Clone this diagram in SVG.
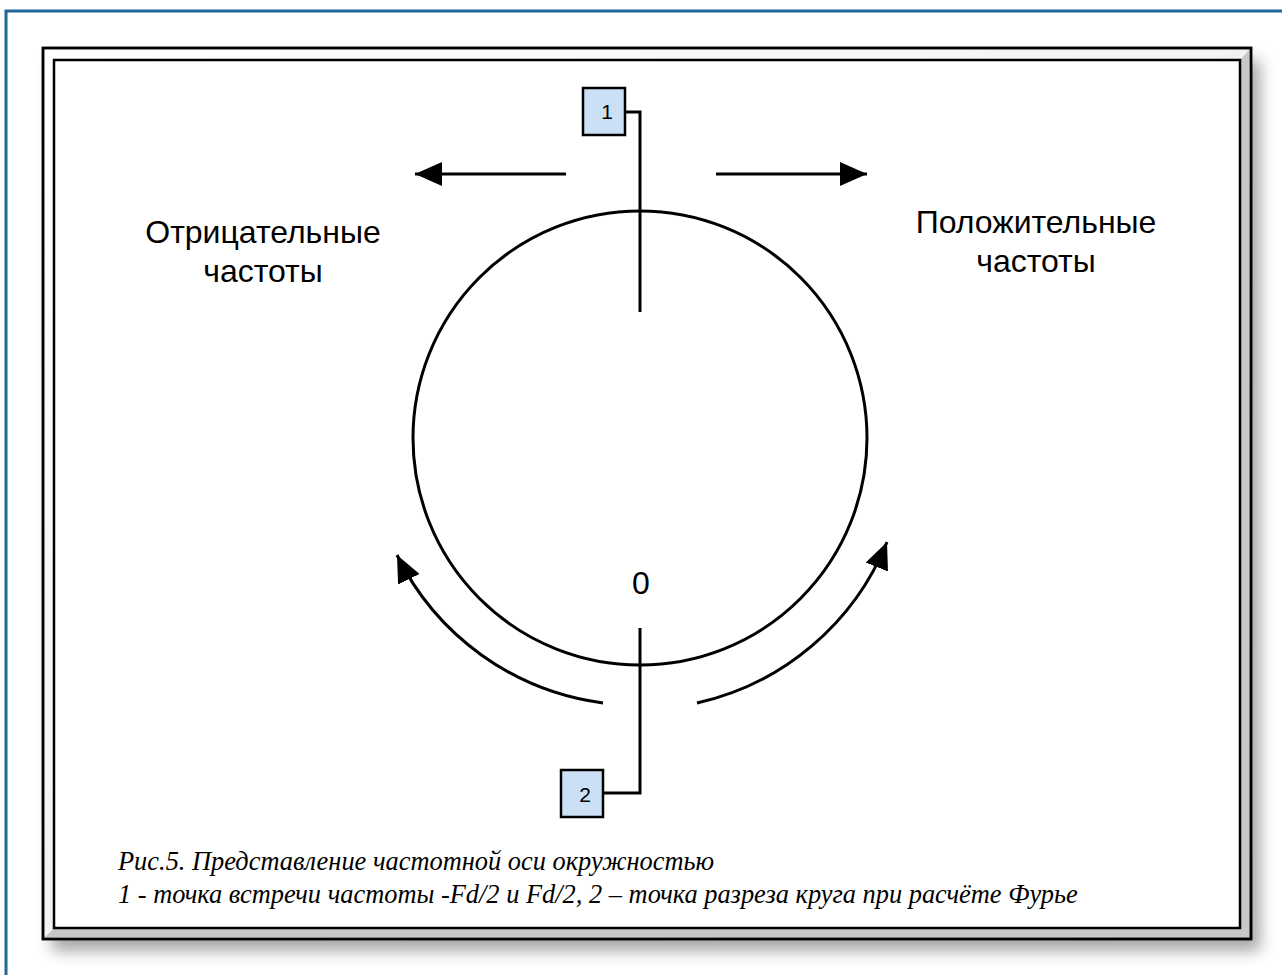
<svg xmlns="http://www.w3.org/2000/svg" width="1282" height="975" viewBox="0 0 1282 975">
<defs>
<style>
.ln{fill:none;stroke:#000;stroke-width:3}
.box{fill:#cce0f5;stroke:#000;stroke-width:2.5}
.lbl{font-family:"Liberation Sans",Arial,sans-serif;font-size:32px;fill:#000;text-anchor:middle}
.num{font-family:"Liberation Sans",Arial,sans-serif;font-size:21px;fill:#000;text-anchor:middle}
.cap{font-family:"Liberation Serif","Times New Roman",serif;font-style:italic;font-size:26.4px;fill:#000}
</style>
<marker id="ah" markerWidth="10" markerHeight="8" refX="9" refY="4" orient="auto" markerUnits="strokeWidth">
<path d="M0,0 L9,4 L0,8 Z" fill="#000"/>
</marker>
<linearGradient id="bev" x1="0" y1="0" x2="1" y2="1">
<stop offset="0" stop-color="#ffffff"/>
<stop offset="0.6" stop-color="#f0f0f0"/>
<stop offset="1" stop-color="#c4c4c4"/>
</linearGradient>
<filter id="sh" x="-5%" y="-5%" width="115%" height="115%">
<feGaussianBlur stdDeviation="8"/>
</filter>
</defs>
<rect x="0" y="0" width="1282" height="975" fill="#fff"/>
<path d="M6,975 V11 H1282" fill="none" stroke="#1f6699" stroke-width="3"/>
<g id="frame">
<rect x="52" y="60" width="1208" height="891" fill="#000" opacity="0.35" filter="url(#sh)"/>
<rect x="43" y="48" width="1208" height="891" fill="url(#bev)" stroke="#000" stroke-width="2.5"/>
<path d="M1240,60 L1249,50 L1249,937 L45,937 L54,928 L1240,928 Z" fill="#c8c8c8"/>
<rect x="43" y="48" width="1208" height="891" fill="none" stroke="#000" stroke-width="2.5"/>
<rect x="54" y="60" width="1186" height="868" fill="#fff" stroke="#000" stroke-width="2.5"/>
</g>
<g id="connectors">
<circle cx="640" cy="438" r="227" class="ln"/>
<path d="M625,112 H640 V312" class="ln"/>
<path d="M640,628 V793 H603" class="ln"/>
<line x1="566" y1="174" x2="415" y2="174" class="ln" marker-end="url(#ah)"/>
<line x1="716" y1="174" x2="867" y2="174" class="ln" marker-end="url(#ah)"/>
<path d="M603,703 A268,268 0 0 1 397,555" class="ln" marker-end="url(#ah)"/>
<path d="M697,703 A268,268 0 0 0 887,542" class="ln" marker-end="url(#ah)"/>
</g>
<g id="node1">
<rect x="583" y="88" width="42" height="47" class="box"/>
<text x="607" y="119" class="num">1</text>
</g>
<g id="node2">
<rect x="561" y="770" width="42" height="47" class="box"/>
<text x="585" y="802" class="num">2</text>
</g>
<g id="label-neg">
<text x="263" y="243" class="lbl">Отрицательные</text>
<text x="263" y="282" class="lbl">частоты</text>
</g>
<g id="label-pos">
<text x="1036" y="233" class="lbl">Положительные</text>
<text x="1036" y="272" class="lbl">частоты</text>
</g>
<g id="label-zero">
<text x="641" y="594" class="lbl">0</text>
</g>
<g id="caption">
<text x="118" y="870" class="cap">Рис.5. Представление частотной оси окружностью</text>
<text x="118" y="903" class="cap">1 - точка встречи частоты -Fd/2 и Fd/2, 2 – точка разреза круга при расчёте Фурье</text>
</g>
</svg>
